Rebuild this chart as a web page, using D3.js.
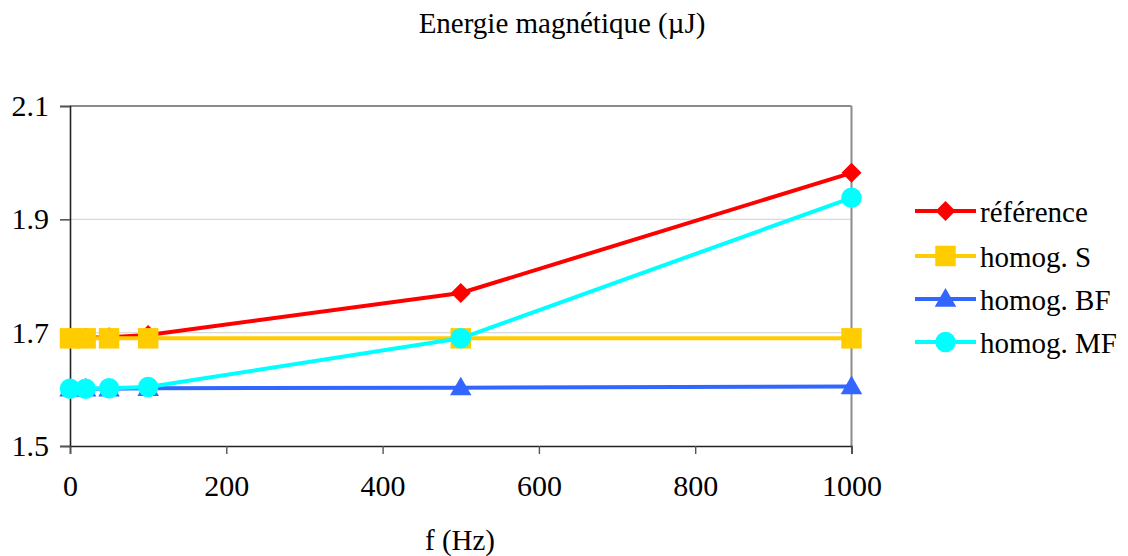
<!DOCTYPE html>
<html>
<head>
<meta charset="utf-8">
<script src="https://cdn.jsdelivr.net/npm/d3@7"></script>
<style>
  html, body { margin: 0; padding: 0; background: #fff; }
  svg { display: block; }
  svg text { font-family: 'Liberation Serif', 'Times New Roman', serif !important; }
</style>
</head>
<body>
<svg id="chart" width="1128" height="556"></svg>
<script>
const frequencies = [0, 20, 50, 100, 500, 1000];
const reference = [1.691, 1.691, 1.692, 1.696, 1.770, 1.982];
const homogS = [1.690, 1.690, 1.690, 1.690, 1.690, 1.690];
const homogBF = [1.601, 1.601, 1.601, 1.602, 1.603, 1.605];
const homogMF = [1.601, 1.601, 1.602, 1.604, 1.690, 1.938];
const seriesNames = ["référence", "homog. S", "homog. BF", "homog. MF"];
const xTicks = [0, 200, 400, 600, 800, 1000];
const yTicks = [1.5, 1.7, 1.9, 2.1];
const titleText = "Energie magnétique (µJ)";
const xTitleText = "f (Hz)";

const FONT = "'Liberation Serif', 'Times New Roman', serif";

// diamond = square rotated 45°
const styles = [
  { color: "#FF0000", symbol: d3.symbolSquare, size: 200, rotate: 45, dy: 0 },
  { color: "#FFCC00", symbol: d3.symbolSquare, size: 420, rotate: 0, dy: 0 },
  { color: "#3366FF", symbol: d3.symbolTriangle, size: 200, rotate: 0, dy: 1.5 },
  { color: "#00FFFF", symbol: d3.symbolCircle, size: 330, rotate: 0, dy: 0 }
];
const allSeries = [reference, homogS, homogBF, homogMF];

const svg = d3.select("#chart");
const pLeft = 70, pRight = 851.5, pTop = 106, pBottom = 446;

const x = d3.scaleLinear().domain([0, 1000]).range([pLeft, pRight]);
const y = d3.scaleLinear().domain([1.5, 2.1]).range([pBottom, pTop]);

// gridlines
svg.append("g").selectAll("line").data(yTicks.filter(t => t > 1.5 && t < 2.1)).join("line")
  .attr("x1", pLeft).attr("x2", pRight)
  .attr("y1", d => y(d)).attr("y2", d => y(d))
  .attr("stroke", "#d9d9d9").attr("stroke-width", 1.2);

// plot border top & right
svg.append("line").attr("x1", pLeft).attr("x2", pRight).attr("y1", pTop).attr("y2", pTop)
  .attr("stroke", "#8c8c8c").attr("stroke-width", 2);
svg.append("line").attr("x1", pRight).attr("x2", pRight).attr("y1", pTop).attr("y2", pBottom)
  .attr("stroke", "#8c8c8c").attr("stroke-width", 2);

// axes
const yAxis = d3.axisLeft(y).tickValues(yTicks).tickFormat(d3.format(".1f")).tickSize(10).tickPadding(11);
const gy = svg.append("g").attr("transform", `translate(${pLeft},0)`).call(yAxis);
gy.attr("font-family", null);
gy.select(".domain").attr("stroke", "#222").attr("stroke-width", 1.6);
gy.selectAll(".tick line").attr("stroke", "#555").attr("stroke-width", 1.6);
gy.selectAll("text").style("font-size", "30px").attr("fill", "#000").style("font-family", FONT);

const xAxis = d3.axisBottom(x).tickValues(xTicks).tickFormat(d3.format("d")).tickSize(8).tickPadding(21);
const gx = svg.append("g").attr("transform", `translate(0,${pBottom})`).call(xAxis);
gx.attr("font-family", null);
gx.select(".domain").attr("stroke", "#222").attr("stroke-width", 1.6);
gx.selectAll(".tick line").attr("stroke", "#555").attr("stroke-width", 1.4);
gx.selectAll("text").style("font-size", "30px").attr("fill", "#000").style("font-family", FONT);

// titles
svg.append("text").attr("x", 562).attr("y", 33).attr("text-anchor", "middle")
  .style("font-size", "29px").style("font-family", FONT).attr("fill", "#000").text(titleText);
svg.append("text").attr("x", 460).attr("y", 550).attr("text-anchor", "middle")
  .style("font-size", "29px").style("font-family", FONT).attr("fill", "#000").text(xTitleText);

// series
const line = d3.line().x(d => x(d[0])).y(d => y(d[1]));
allSeries.forEach((vals, i) => {
  const st = styles[i];
  const pts = frequencies.map((f, j) => [f, vals[j]]);
  const g = svg.append("g");
  g.append("path").datum(pts).attr("d", line).attr("fill", "none")
    .attr("stroke", st.color).attr("stroke-width", 4).attr("stroke-linejoin", "round");
  const sym = d3.symbol().type(st.symbol).size(st.size);
  g.selectAll("path.m").data(pts).join("path").attr("class", "m")
    .attr("d", sym)
    .attr("transform", d => `translate(${x(d[0])},${y(d[1]) + st.dy}) rotate(${st.rotate})`)
    .attr("fill", st.color);
});

// legend
const legY = [211, 256, 299, 342];
const lg = svg.append("g");
seriesNames.forEach((name, i) => {
  const st = styles[i];
  const yy = legY[i];
  lg.append("line").attr("x1", 915).attr("x2", 976).attr("y1", yy).attr("y2", yy)
    .attr("stroke", st.color).attr("stroke-width", 4);
  lg.append("path").attr("d", d3.symbol().type(st.symbol).size(st.size)())
    .attr("transform", `translate(945.5,${yy + st.dy}) rotate(${st.rotate})`)
    .attr("fill", st.color);
  lg.append("text").attr("x", 980).attr("y", yy + 11)
    .style("font-size", "29px").style("font-family", FONT)
    .attr("fill", "#000").text(name);
});
</script>
</body>
</html>
